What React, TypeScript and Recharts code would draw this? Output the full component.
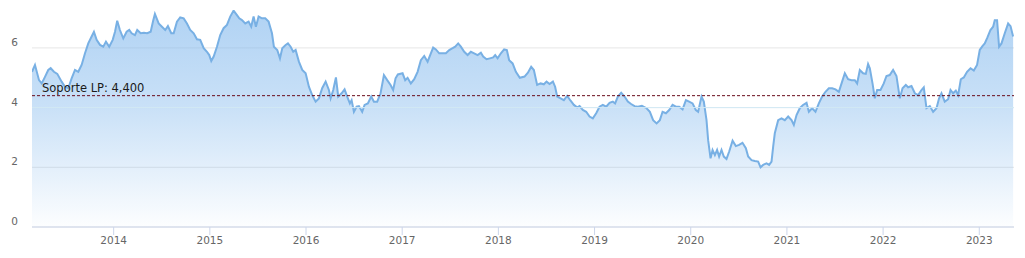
import {
  Area,
  AreaChart,
  CartesianGrid,
  ReferenceLine,
  XAxis,
  YAxis,
} from 'recharts';

// fecha en años decimales
const years = [
  2013.151, 2013.182, 2013.224, 2013.252, 2013.286, 2013.32, 2013.345, 2013.379, 2013.414, 2013.459,
  2013.494, 2013.528, 2013.563, 2013.598, 2013.632, 2013.667, 2013.702, 2013.736, 2013.771, 2013.795,
  2013.823, 2013.858, 2013.892, 2013.92, 2013.954, 2013.99, 2014.014, 2014.037, 2014.065, 2014.1,
  2014.135, 2014.162, 2014.187, 2014.221, 2014.245, 2014.281, 2014.315, 2014.349, 2014.385, 2014.41,
  2014.429, 2014.468, 2014.502, 2014.536, 2014.564, 2014.599, 2014.624, 2014.658, 2014.692, 2014.728,
  2014.762, 2014.796, 2014.832, 2014.866, 2014.9, 2014.936, 2014.97, 2014.994, 2015.015, 2015.04,
  2015.074, 2015.108, 2015.143, 2015.178, 2015.212, 2015.247, 2015.282, 2015.306, 2015.334, 2015.368,
  2015.403, 2015.43, 2015.455, 2015.479, 2015.507, 2015.542, 2015.576, 2015.611, 2015.646, 2015.666,
  2015.701, 2015.729, 2015.753, 2015.788, 2015.812, 2015.84, 2015.867, 2015.892, 2015.926, 2015.961,
  2015.996, 2016.03, 2016.064, 2016.1, 2016.134, 2016.168, 2016.204, 2016.238, 2016.256, 2016.283,
  2016.311, 2016.335, 2016.37, 2016.401, 2016.428, 2016.456, 2016.474, 2016.498, 2016.526, 2016.55,
  2016.584, 2016.609, 2016.643, 2016.678, 2016.706, 2016.74, 2016.775, 2016.81, 2016.844, 2016.879,
  2016.906, 2016.931, 2016.955, 2017.004, 2017.031, 2017.056, 2017.09, 2017.125, 2017.16, 2017.194,
  2017.229, 2017.264, 2017.298, 2017.322, 2017.35, 2017.385, 2017.42, 2017.454, 2017.489, 2017.524,
  2017.551, 2017.582, 2017.61, 2017.645, 2017.68, 2017.714, 2017.748, 2017.784, 2017.818, 2017.842,
  2017.877, 2017.912, 2017.946, 2017.967, 2017.992, 2018.026, 2018.06, 2018.088, 2018.112, 2018.148,
  2018.182, 2018.223, 2018.272, 2018.307, 2018.341, 2018.369, 2018.403, 2018.439, 2018.473, 2018.501,
  2018.532, 2018.567, 2018.59, 2018.611, 2018.647, 2018.681, 2018.715, 2018.751, 2018.785, 2018.819,
  2018.844, 2018.878, 2018.913, 2018.948, 2018.982, 2019.017, 2019.052, 2019.086, 2019.121, 2019.156,
  2019.19, 2019.214, 2019.242, 2019.277, 2019.312, 2019.346, 2019.38, 2019.416, 2019.45, 2019.492,
  2019.541, 2019.575, 2019.609, 2019.645, 2019.679, 2019.707, 2019.742, 2019.776, 2019.811, 2019.846,
  2019.88, 2019.915, 2019.95, 2019.983, 2020.019, 2020.053, 2020.077, 2020.112, 2020.136, 2020.164,
  2020.181, 2020.206, 2020.227, 2020.251, 2020.274, 2020.295, 2020.32, 2020.344, 2020.372, 2020.399,
  2020.435, 2020.469, 2020.503, 2020.538, 2020.573, 2020.597, 2020.632, 2020.666, 2020.701, 2020.726,
  2020.753, 2020.788, 2020.815, 2020.84, 2020.857, 2020.874, 2020.909, 2020.944, 2020.978, 2021.013,
  2021.048, 2021.072, 2021.1, 2021.134, 2021.168, 2021.204, 2021.228, 2021.262, 2021.297, 2021.332,
  2021.366, 2021.401, 2021.436, 2021.47, 2021.505, 2021.54, 2021.574, 2021.602, 2021.636, 2021.672,
  2021.706, 2021.73, 2021.758, 2021.792, 2021.82, 2021.844, 2021.862, 2021.89, 2021.914, 2021.938,
  2021.973, 2022.007, 2022.035, 2022.069, 2022.104, 2022.139, 2022.174, 2022.202, 2022.236, 2022.26,
  2022.295, 2022.33, 2022.364, 2022.399, 2022.423, 2022.451, 2022.486, 2022.52, 2022.555, 2022.582,
  2022.607, 2022.641, 2022.676, 2022.701, 2022.728, 2022.756, 2022.78, 2022.808, 2022.839, 2022.873,
  2022.909, 2022.943, 2022.977, 2023.005, 2023.033, 2023.057, 2023.085, 2023.116, 2023.144, 2023.161,
  2023.185, 2023.206, 2023.231, 2023.265, 2023.3, 2023.325, 2023.352,
];

const prices = [
  5.2, 5.43, 4.92, 4.81, 5.03, 5.26, 5.32, 5.2, 5.13, 4.87,
  4.7, 4.65, 4.98, 5.26, 5.2, 5.43, 5.82, 6.15, 6.38, 6.54,
  6.27, 6.1, 6.04, 6.21, 6.04, 6.27, 6.54, 6.91, 6.6, 6.32,
  6.54, 6.6, 6.49, 6.43, 6.6, 6.49, 6.51, 6.49, 6.54, 6.9,
  7.14, 6.82, 6.71, 6.6, 6.73, 6.49, 6.49, 6.88, 7.02, 6.99,
  6.82, 6.6, 6.49, 6.29, 6.27, 5.99, 5.87, 5.76, 5.56, 5.71,
  6.04, 6.43, 6.66, 6.77, 7.05, 7.25, 7.1, 6.99, 6.93, 6.82,
  6.88, 6.71, 7.05, 6.71, 7.05, 6.99, 6.99, 6.88, 6.49, 6.04,
  5.93, 5.65, 5.99, 6.1, 6.15, 6.04, 5.87, 5.93, 5.54, 5.26,
  5.15, 4.7, 4.42, 4.2, 4.31, 4.65, 4.87, 4.59, 4.31, 4.59,
  5.01, 4.37, 4.48, 4.61, 4.37, 4.14, 4.25, 3.86, 4.03, 4.05,
  3.86, 4.09, 4.14, 4.37, 4.2, 4.2, 4.48, 5.09, 4.92, 4.76,
  4.59, 4.98, 5.11, 5.15, 4.92, 5.0, 4.81, 4.95, 5.2, 5.59,
  5.73, 5.54, 5.82, 6.01, 5.95, 5.82, 5.82, 5.82, 5.93, 5.99,
  6.04, 6.15, 6.04, 5.87, 5.76, 5.87, 5.82, 5.76, 5.84, 5.71,
  5.62, 5.65, 5.68, 5.76, 5.65, 5.82, 5.95, 5.93, 5.59, 5.48,
  5.2, 5.0, 5.04, 5.17, 5.37, 5.26, 4.76, 4.81, 4.78, 4.87,
  4.79, 4.87, 4.7, 4.37, 4.31, 4.25, 4.39, 4.23, 4.09, 4.01,
  4.05, 3.92, 3.86, 3.7, 3.64, 3.81, 4.03, 4.09, 4.03, 4.16,
  4.2, 4.14, 4.37, 4.5, 4.37, 4.2, 4.12, 4.05, 4.03, 4.06,
  3.98, 3.86, 3.58, 3.47, 3.58, 3.86, 3.81, 3.92, 4.09, 4.03,
  4.03, 3.94, 4.25, 4.2, 4.14, 3.92, 3.86, 4.37, 4.2, 3.58,
  2.91, 2.3, 2.58, 2.41, 2.58, 2.36, 2.58, 2.36, 2.28, 2.52,
  2.89, 2.71, 2.75, 2.82, 2.64, 2.36, 2.24, 2.21, 2.19, 2.0,
  2.08, 2.13, 2.08, 2.19, 2.69, 3.14, 3.58, 3.64, 3.58, 3.7,
  3.58, 3.42, 3.75, 3.98, 4.09, 4.16, 3.86, 3.98, 3.86, 4.14,
  4.37, 4.53, 4.65, 4.65, 4.61, 4.53, 4.87, 5.15, 4.95, 4.92,
  4.92, 4.81, 5.26, 5.15, 5.13, 5.46, 5.32, 4.81, 4.31, 4.59,
  4.59, 4.81, 5.06, 5.09, 5.26, 5.06, 4.31, 4.65, 4.76, 4.68,
  4.72, 4.48, 4.42, 4.59, 4.68, 3.98, 4.05, 3.86, 3.98, 4.31,
  4.48, 4.2, 4.28, 4.59, 4.48, 4.57, 4.42, 4.95, 5.01, 5.2,
  5.32, 5.24, 5.43, 5.93, 6.06, 6.15, 6.35, 6.6, 6.71, 6.93,
  6.93, 6.04, 6.15, 6.49, 6.82, 6.73, 6.38,
];

const yearTicks = [2014, 2015, 2016, 2017, 2018, 2019, 2020, 2021, 2022, 2023];
const valueTicks = [0, 2, 4, 6];
const yMax = 7.27;
const supportLevel = 4.4;
const supportLabel = 'Soporte LP: 4,400';

const data = years.map((t, i) => ({ t, price: prices[i] }));

const FONT = '"DejaVu Sans", Verdana, sans-serif';

function YTick({ y, payload }: any) {
  return (
    <text x={18} y={y - 2} textAnchor="end" fill="#666" fontSize={10.5} fontFamily={FONT}>
      {payload.value}
    </text>
  );
}

export default function App() {
  return (
    <div style={{ position: 'absolute', left: 0, top: 0, width: 1025, height: 258, background: '#fff' }}>
      <AreaChart
        width={1025}
        height={258}
        data={data}
        margin={{ top: 10, right: 11, bottom: 0, left: 0 }}
      >
        <defs>
          <linearGradient id="fillBlue" x1="0" y1="0" x2="0" y2="1">
            <stop offset="0%" stopColor="#7cb5ec" stopOpacity={1} />
            <stop offset="45%" stopColor="#7cb5ec" stopOpacity={0.68} />
            <stop offset="100%" stopColor="#7cb5ec" stopOpacity={0.03} />
          </linearGradient>
        </defs>
        <CartesianGrid
          vertical={false}
          stroke="#e6e6e6"
          horizontalCoordinatesGenerator={({ offset }: any) =>
            valueTicks.map((v) => offset.top + offset.height * (1 - v / yMax))
          }
        />
        <XAxis
          dataKey="t"
          type="number"
          domain={[2013.151, 2023.361]}
          allowDataOverflow
          ticks={yearTicks}
          height={31}
          stroke="#ccd6eb"
          tickSize={8}
          tickMargin={2}
          tick={{ fill: '#666', fontSize: 10.5, fontFamily: FONT }}
        />
        <YAxis
          type="number"
          domain={[0, yMax]}
          allowDataOverflow
          ticks={valueTicks}
          width={32}
          axisLine={false}
          tickLine={false}
          tick={<YTick />}
        />
        <Area
          type="linear"
          dataKey="price"
          stroke="#78b0e4"
          strokeWidth={2}
          fill="url(#fillBlue)"
          isAnimationActive={false}
          dot={false}
          activeDot={false}
        />
        <ReferenceLine y={4} stroke="#d3eaf6" strokeWidth={1} />
        <ReferenceLine
          y={supportLevel}
          stroke="#6a0c1c"
          strokeDasharray="3 2"
          label={({ viewBox }: any) => (
            <text
              x={viewBox.x + 10}
              y={viewBox.y - 4}
              fill="#1a1a1a"
              fontSize={11.5}
              fontFamily={FONT}
            >
              {supportLabel}
            </text>
          )}
        />
      </AreaChart>
    </div>
  );
}
